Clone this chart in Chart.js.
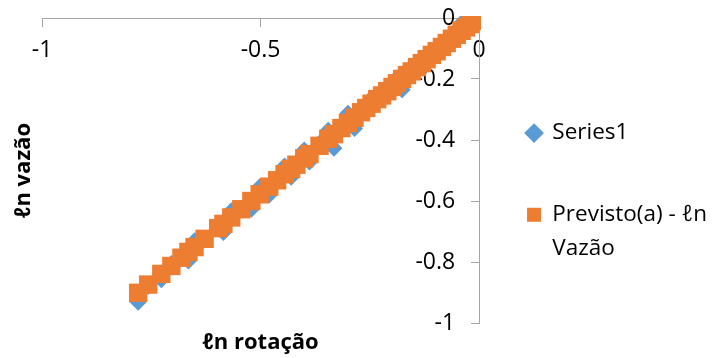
<!DOCTYPE html>
<html>
<head>
<meta charset="utf-8">
<script src="https://cdn.jsdelivr.net/npm/chart.js@4.4.1/dist/chart.umd.min.js"></script>
<style>
  html, body { margin: 0; padding: 0; background: #fff; }
</style>
</head>
<body>
<canvas id="grafica" width="717" height="358"></canvas>
<script>
// ln rotação (x) - compartilhado pelas duas séries
const lnRotacao = [
  -0.780, -0.757, -0.727, -0.704, -0.681, -0.665, -0.651, -0.628, -0.597, -0.585,
  -0.567, -0.544, -0.521, -0.502, -0.480, -0.462, -0.445, -0.430, -0.418, -0.400,
  -0.388, -0.365, -0.345, -0.332, -0.315, -0.300, -0.285, -0.270, -0.258, -0.246,
  -0.233, -0.222, -0.210, -0.198, -0.188, -0.176, -0.165, -0.154, -0.142, -0.131,
  -0.120, -0.108, -0.097, -0.085, -0.074, -0.062, -0.051, -0.040, -0.030, -0.021,
  -0.012, -0.004
];

// ln vazão medido (Series1)
const lnVazao = [
  -0.932, -0.880, -0.858, -0.805, -0.780, -0.797, -0.730, -0.728, -0.683, -0.703,
  -0.632, -0.625, -0.627, -0.553, -0.580, -0.525, -0.485, -0.522, -0.475, -0.433,
  -0.472, -0.410, -0.368, -0.427, -0.355, -0.312, -0.362, -0.300, -0.302, -0.262,
  -0.275, -0.245, -0.226, -0.232, -0.196, -0.235, -0.180, -0.182, -0.145, -0.155,
  -0.128, -0.126, -0.103, -0.099, -0.076, -0.072, -0.050, -0.016, -0.034, -0.018,
  -0.013, -0.002
];

// Previsto(a) - ln Vazão
const previsto = [
  -0.901, -0.874, -0.839, -0.813, -0.786, -0.767, -0.751, -0.724, -0.689, -0.675,
  -0.654, -0.627, -0.600, -0.578, -0.553, -0.532, -0.512, -0.495, -0.481, -0.460,
  -0.446, -0.419, -0.396, -0.381, -0.361, -0.344, -0.327, -0.309, -0.295, -0.281,
  -0.266, -0.254, -0.240, -0.226, -0.214, -0.200, -0.187, -0.175, -0.161, -0.148,
  -0.135, -0.121, -0.109, -0.095, -0.082, -0.068, -0.055, -0.042, -0.031, -0.020,
  -0.010, -0.001
];

const xTicks = [-1, -0.5, 0];
const xTickLabels = ['-1', '-0.5', '0'];
const yTicks = [0, -0.2, -0.4, -0.6, -0.8, -1];
const yTickLabels = ['0', '-0.2', '-0.4', '-0.6', '-0.8', '-1'];

const seriesNames = [['Series1'], ['Previsto(a) - ℓn', 'Vazão']];

const FONTE = "'Open Sans', 'DejaVu Sans', sans-serif";
const CINZA = '#a6a6a6';

function pontos(ys) {
  return lnRotacao.map((x, i) => ({ x: x, y: ys[i] }));
}

const ctx = document.getElementById('grafica').getContext('2d');

new Chart(ctx, {
  type: 'scatter',
  data: {
    datasets: [{
      label: seriesNames[0],
      data: pontos(lnVazao),
      pointStyle: 'rectRot',
      pointRadius: 8.5,
      pointHoverRadius: 8.5,
      pointBorderWidth: 0,
      backgroundColor: '#5b9bd5',
      borderColor: '#5b9bd5',
      order: 2
    }, {
      label: seriesNames[1],
      data: pontos(previsto),
      pointStyle: 'rect',
      pointRadius: 13,
      pointHoverRadius: 13,
      pointBorderWidth: 0,
      backgroundColor: '#ed7d31',
      borderColor: '#ed7d31',
      order: 1
    }]
  },
  options: {
    responsive: false,
    animation: false,
    clip: 2,
    layout: { padding: { top: 18, right: 0, bottom: 0, left: 0 } },
    scales: {
      x: {
        type: 'linear',
        min: -1,
        max: 0,
        position: { y: 0 },
        afterBuildTicks: s => { s.ticks = xTicks.map(v => ({ value: v })); },
        grid: { display: true, drawOnChartArea: false, drawTicks: true, tickLength: 8, color: CINZA, lineWidth: 1 },
        border: { display: true, color: CINZA, width: 1 },
        ticks: {
          padding: 11,
          color: '#000',
          font: { family: FONTE, size: 23 },
          maxRotation: 0,
          autoSkip: false,
          callback: v => xTickLabels[xTicks.indexOf(v)]
        }
      },
      y: {
        type: 'linear',
        min: -1,
        max: 0,
        position: { x: 0 },
        afterBuildTicks: s => { s.ticks = yTicks.map(v => ({ value: v })); },
        grid: { display: true, drawOnChartArea: false, drawTicks: true, tickLength: 8, color: CINZA, lineWidth: 1 },
        border: { display: true, color: CINZA, width: 1 },
        ticks: {
          color: '#000',
          font: { family: FONTE, size: 23 },
          autoSkip: false,
          // rótulos ficam encostados no eixo: espaços finais afastam o texto
          callback: v => yTickLabels[yTicks.indexOf(v)] + '    '
        }
      }
    },
    plugins: {
      legend: {
        position: 'right',
        align: 'center',
        maxWidth: 238,
        title: { display: true, text: ' ', font: { family: FONTE, size: 14 }, padding: 0 },
        labels: {
          usePointStyle: true,
          boxWidth: 14,
          boxHeight: 14,
          padding: 48,
          color: '#000',
          font: { family: FONTE, size: 22.5, lineHeight: 1.5 },
          sort: (a, b) => a.datasetIndex - b.datasetIndex
        }
      },
      title: {
        display: true,
        position: 'bottom',
        fullSize: false,
        text: 'ℓn rotação',
        color: '#000',
        font: { family: FONTE, size: 22, weight: 'bold', lineHeight: 1.2 },
        padding: { top: 7, bottom: 1.6 }
      },
      subtitle: {
        display: true,
        position: 'left',
        fullSize: false,
        text: 'ℓn vazão',
        color: '#000',
        font: { family: FONTE, size: 22, weight: 'bold', lineHeight: 1.2 },
        padding: { top: 11, bottom: 4.6 }
      },
      tooltip: { enabled: false }
    }
  }
});
</script>
</body>
</html>
